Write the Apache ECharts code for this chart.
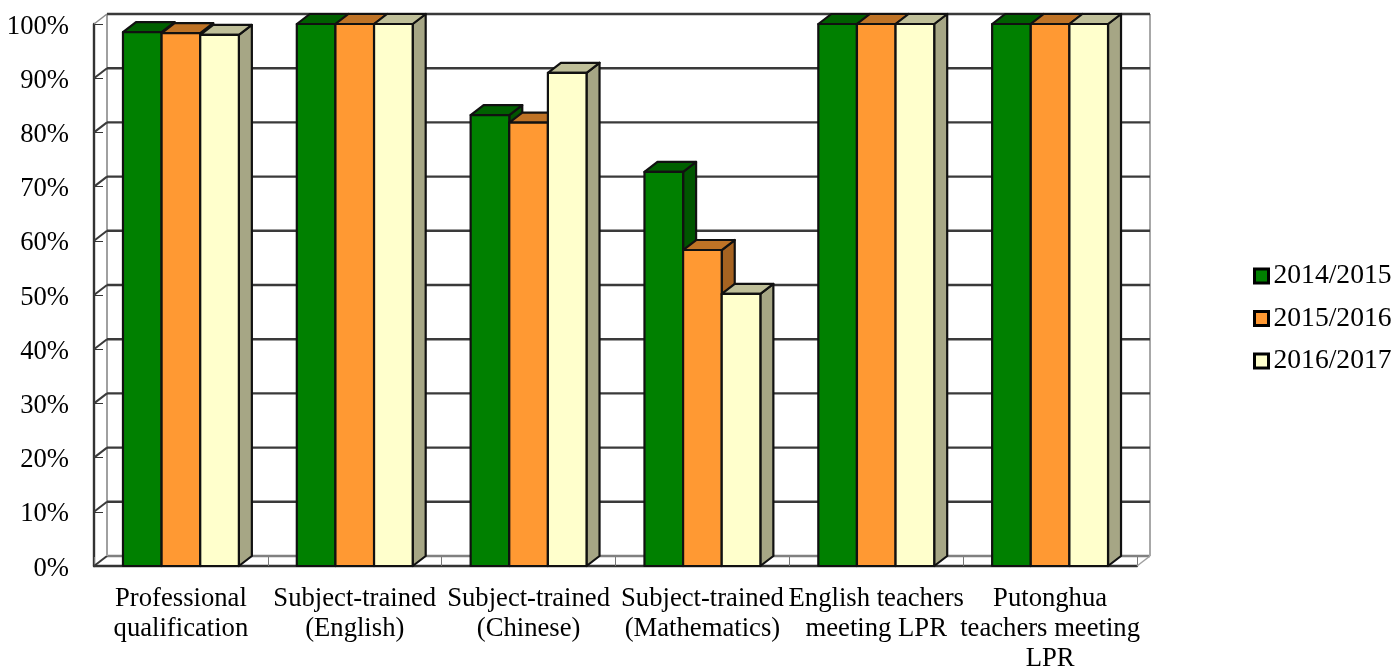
<!DOCTYPE html>
<html>
<head>
<meta charset="utf-8">
<style>html,body{margin:0;padding:0;background:#fff}#c{width:1395px;height:668px}</style>
<script src="https://cdn.jsdelivr.net/npm/echarts@6/dist/echarts.min.js"></script>
</head>
<body>
<div id="c"></div>
<script>
var categories = ['Professional\nqualification','Subject-trained\n(English)','Subject-trained\n(Chinese)','Subject-trained\n(Mathematics)','English teachers\nmeeting LPR','Putonghua\nteachers meeting\nLPR'];
var seriesNames = ['2014/2015','2015/2016','2016/2017'];
var values2014 = [98.5,100,83.2,72.7,100,100];
var values2015 = [98.3,100,81.8,58.3,100,100];
var values2016 = [98,100,91,50.2,100,100];
var yTicks = [0,10,20,30,40,50,60,70,80,90,100];

var DX = 13, DY = 10;
var EDGE = '#111';
var palette = [
  {front:'#008000', top:'#006000', side:'#005500'},
  {front:'#FF9933', top:'#BF7326', side:'#A66321'},
  {front:'#FFFFCC', top:'#BFBF99', side:'#A6A685'}
];

function wallRender(params, api) {
  var cs = params.coordSys;
  var v = api.value(0);
  var y = api.coord([0, v])[1];
  var L = cs.x, R = cs.x + cs.width;
  var kids = [];
  var isZero = v === 0;
  var isTop = v === 100;
  var c = isZero ? '#808080' : '#3a3a3a';
  kids.push({type:'line', shape:{x1:L+DX,y1:y-DY,x2:R+DX,y2:y-DY}, style:{stroke:c,lineWidth:2.4}});
  kids.push({type:'line', shape:{x1:L,y1:y,x2:L+DX,y2:y-DY}, style:{stroke:isTop?'#8a8a8a':'#3a3a3a',lineWidth:isTop?1.5:2}});
  if (isZero) {
    var top = cs.y;
    kids.push({type:'line', shape:{x1:R,y1:y,x2:R+DX,y2:y-DY}, style:{stroke:'#a0a0a0',lineWidth:1.5}});
    kids.push({type:'line', shape:{x1:L+DX,y1:y-DY,x2:L+DX,y2:top-DY}, style:{stroke:'#a0a0a0',lineWidth:2}});
    kids.push({type:'line', shape:{x1:R+DX,y1:y-DY,x2:R+DX,y2:top-DY}, style:{stroke:'#a8a8a8',lineWidth:2}});
  }
  return {type:'group', children:kids};
}

function barRenderer(idx) {
  return function (params, api) {
    var cat = api.value(0), val = api.value(1);
    var band = api.size([1, 0])[0];
    var w = band * 2 / 9;
    var center = api.coord([cat, 0])[0];
    var x = center - 1.5 * w + idx * w;
    var y0 = api.coord([cat, 0])[1];
    var y1 = api.coord([cat, val])[1];
    var col = palette[idx];
    var st = function (fill) { return {fill:fill, stroke:EDGE, lineWidth:2.2, lineJoin:'round'}; };
    return {type:'group', children:[
      {type:'polygon', shape:{points:[[x+w,y1],[x+w+DX,y1-DY],[x+w+DX,y0-DY],[x+w,y0]]}, style:st(col.side)},
      {type:'polygon', shape:{points:[[x,y1],[x+DX,y1-DY],[x+w+DX,y1-DY],[x+w,y1]]}, style:st(col.top)},
      {type:'rect', shape:{x:x,y:y1,width:w,height:y0-y1}, style:st(col.front)}
    ]};
  };
}

function barData(vals) { return vals.map(function (v, i) { return [i, v]; }); }

var allValues = [values2014, values2015, values2016];
var series = [{
  type:'custom', name:'walls', coordinateSystem:'cartesian2d', silent:true, z:1,
  data: yTicks.map(function (t) { return [t]; }),
  encode:{y:0},
  renderItem: wallRender
}];
seriesNames.forEach(function (n, i) {
  series.push({
    type:'custom', name:n, coordinateSystem:'cartesian2d', z:3,
    itemStyle:{color:palette[i].front},
    data:barData(allValues[i]),
    encode:{x:0,y:1},
    renderItem:barRenderer(i)
  });
});

var chart = echarts.init(document.getElementById('c'), null, {renderer:'canvas'});
var FONT = 'Liberation Serif';
chart.setOption({
  animation:false,
  backgroundColor:'#fff',
  textStyle:{fontFamily:FONT},
  grid:{left:94, right:258, top:24, bottom:102, containLabel:false, outerBoundsMode:'none'},
  xAxis:{
    type:'category', data:categories, boundaryGap:true,
    axisLine:{show:true, onZero:false, lineStyle:{color:'#333',width:2.4}},
    axisTick:{show:true, inside:true, length:9, alignWithLabel:false, interval:0, lineStyle:{color:'#777',width:1}},
    axisLabel:{interval:0, color:'#000', fontFamily:FONT, fontSize:26.67, lineHeight:30, margin:18, hideOverlap:false},
    splitLine:{show:false}
  },
  yAxis:{
    type:'value', min:0, max:100, interval:10,
    axisLine:{show:true, lineStyle:{color:'#333',width:2.4}},
    axisTick:{show:true, inside:true, length:9, lineStyle:{color:'#333',width:1}},
    axisLabel:{margin:25, formatter:'{t|{value}%}',
      rich:{t:{color:'#000', fontFamily:FONT, fontSize:26.67, padding:[5,0,0,0]}}},
    splitLine:{show:false}
  },
  legend:{
    show:true, orient:'vertical', left:1248, top:257, itemWidth:14, itemHeight:14, itemGap:14.5,
    icon:'rect', selectedMode:false,
    data:seriesNames,
    itemStyle:{borderColor:'#000',borderWidth:3},
    textStyle:{color:'#000',fontFamily:FONT,fontSize:27.6}
  },
  series:series
});
</script>
</body>
</html>
